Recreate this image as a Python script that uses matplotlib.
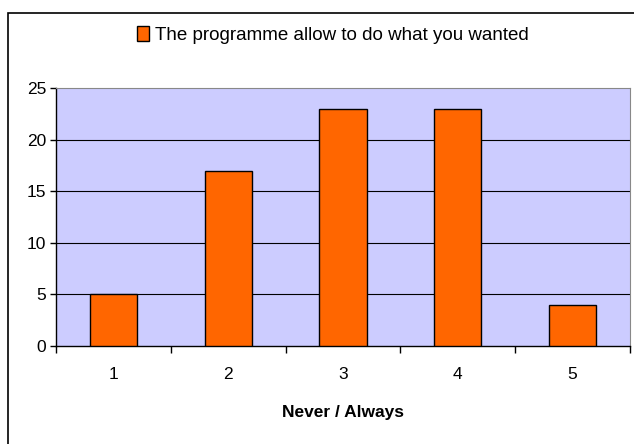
import matplotlib.pyplot as plt
from matplotlib.patches import Rectangle

plt.rcParams["font.family"] = ["Liberation Sans", "DejaVu Sans"]

# data
categories = ["1", "2", "3", "4", "5"]
values = [5, 17, 23, 23, 4]
series_name = "The programme allow to do what you wanted"
y_ticks = [0, 5, 10, 15, 20, 25]

fig = plt.figure(figsize=(6.34, 4.44), dpi=100)

# outer chart border (runs off the right and bottom edges like the original)
fig.patches.append(Rectangle((8 / 634, -0.05), 1.0, 1 - 13 / 444 + 0.05,
                             transform=fig.transFigure, fill=False,
                             edgecolor="black", linewidth=1.2))

ax = fig.add_axes([56 / 634, 1 - 346 / 444, (630 - 56) / 634, (346 - 88) / 444])
ax.set_facecolor("#CCCCFF")

x = list(range(len(categories)))
bars = ax.bar(x, values, width=0.41, color="#FF6600", edgecolor="black",
              linewidth=1.0, zorder=3, label=series_name)

ax.set_xlim(-0.5, len(categories) - 0.5)
ax.set_ylim(0, 25)
ax.set_yticks(y_ticks)
ax.set_xticks([i - 0.5 for i in range(len(categories) + 1)], minor=False)
ax.set_xticklabels([])
ax.set_xticks(x, minor=True)
ax.set_xticklabels(categories, minor=True)
ax.tick_params(axis="x", which="minor", length=0, pad=15, labelsize=12.5)
ax.tick_params(axis="x", which="major", length=5, direction="out", width=1)
ax.tick_params(axis="y", length=4, direction="out", width=1, labelsize=12.5, pad=3)

for yv in y_ticks[1:-1]:
    ax.axhline(yv, color="black", linewidth=0.8, zorder=1)

for side in ["top", "right"]:
    ax.spines[side].set_color("#888888")
for side in ["left", "bottom"]:
    ax.spines[side].set_color("black")
    ax.spines[side].set_linewidth(1.0)

ax.set_xlabel("Never / Always", fontsize=12.5, fontweight="bold", labelpad=17)

fig.legend(handles=[bars], labels=[series_name], loc="center",
           bbox_to_anchor=(333 / 634, 1 - 35 / 444), frameon=False,
           fontsize=13.5, handlelength=0.65, handleheight=0.85, handletextpad=0.3)

plt.savefig("out.png", dpi=100)
